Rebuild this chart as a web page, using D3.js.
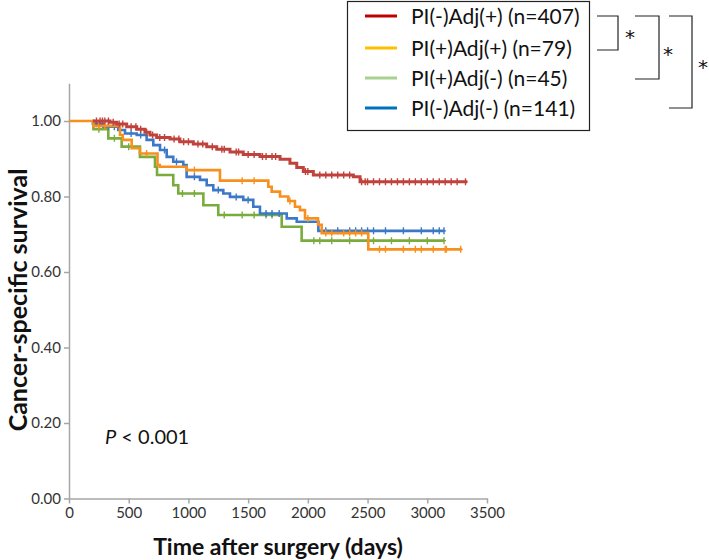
<!DOCTYPE html>
<html>
<head>
<meta charset="utf-8">
<script src="https://cdn.jsdelivr.net/npm/d3@7"></script>
<style>
  body { margin: 0; background: #fff; }
  svg { display: block; font-family: Lato, "Open Sans", sans-serif; }
</style>
</head>
<body>
<svg id="chart" width="709" height="560"></svg>
<script>
// ---------- DATA ----------
const xTicks = [0, 500, 1000, 1500, 2000, 2500, 3000, 3500];
const yTicks = [0, 0.2, 0.4, 0.6, 0.8, 1.0];

const seriesNames = ["PI(-)Adj(+) (n=407)", "PI(+)Adj(+) (n=79)", "PI(+)Adj(-) (n=45)", "PI(-)Adj(-) (n=141)"];

// red: PI(-)Adj(+)
const redTimes = [200, 343, 399, 483, 567, 636, 678, 734, 846, 929, 1041, 1153, 1237, 1348, 1459, 1599, 1767, 1850, 1907, 1962, 2046, 2381, 2437];
const redSurv  = [1.0, 0.997, 0.992, 0.985, 0.978, 0.970, 0.963, 0.956, 0.952, 0.945, 0.939, 0.932, 0.925, 0.918, 0.911, 0.906, 0.899, 0.888, 0.877, 0.866, 0.857, 0.852, 0.839];
const redEnd = 3335;
const redCensor = [230, 260, 280, 300, 330, 370, 420, 450, 520, 560, 600, 650, 700, 760, 800, 880, 920, 960, 1000, 1080, 1120, 1200, 1280, 1300, 1400, 1420, 1500, 1550, 1620, 1650, 1700, 1730, 1980, 2000, 2100, 2150, 2200, 2250, 2300, 2350, 2450, 2480, 2500, 2550, 2600, 2650, 2700, 2750, 2800, 2850, 2900, 2950, 3000, 3050, 3100, 3150, 3200, 3250, 3320];

// orange: PI(+)Adj(+)
const orangeTimes = [0, 204, 427, 450, 525, 594, 741, 760, 985, 1264, 1669, 1697, 1767, 1836, 1892, 1934, 1976, 2085, 2116, 2506];
const orangeSurv  = [1.0, 0.987, 0.963, 0.950, 0.928, 0.914, 0.883, 0.879, 0.870, 0.842, 0.826, 0.813, 0.800, 0.788, 0.773, 0.764, 0.742, 0.725, 0.703, 0.660];
const orangeEnd = 3288;
const orangeCensor = [250, 300, 650, 1050, 1450, 1550, 1850, 2000, 2150, 2200, 2300, 2350, 2400, 2450, 2600, 2650, 2800, 2900, 2950, 3050, 3150, 3160, 3280];

// green: PI(+)Adj(-)
const greenTimes = [200, 205, 329, 441, 594, 720, 737, 873, 915, 1125, 1250, 1781, 1948];
const greenSurv  = [1.0, 0.978, 0.954, 0.932, 0.905, 0.879, 0.857, 0.830, 0.808, 0.777, 0.751, 0.720, 0.683];
const greenEnd = 3142;
const greenCensor = [250, 380, 500, 950, 1050, 1300, 1450, 1550, 1650, 1700, 2050, 2100, 2200, 2350, 2500, 2550, 2700, 2850, 3000, 3140];

// blue: PI(-)Adj(-)
const blueTimes = [195, 200, 287, 413, 469, 567, 650, 706, 762, 818, 873, 957, 985, 1097, 1153, 1208, 1292, 1348, 1459, 1543, 1599, 1823, 1907, 2088];
const blueSurv  = [1.0, 0.993, 0.985, 0.976, 0.967, 0.963, 0.950, 0.936, 0.923, 0.905, 0.892, 0.883, 0.852, 0.844, 0.830, 0.817, 0.808, 0.799, 0.791, 0.773, 0.755, 0.742, 0.733, 0.709];
const blueEnd = 3142;
const blueCensor = [230, 260, 330, 380, 520, 600, 800, 900, 1050, 1250, 1400, 1500, 1650, 1700, 1760, 2150, 2250, 2350, 2400, 2450, 2500, 2550, 2650, 2800, 2950, 3050, 3100, 3140];

const curveColors  = { red: "#c0423c", orange: "#f7901e", green: "#78ad3e", blue: "#3b79c6" };
const legendColors = ["#c00000", "#ffc000", "#a9d18e", "#0070c0"];

// ---------- CHART ----------
const svg = d3.select("#chart");
const x = d3.scaleLinear().domain([0, 3500]).range([69, 487]);
const y = d3.scaleLinear().domain([0, 1.1]).range([498.5, 83.25]);

const axisColor = "#a6a6a6";
const gx = svg.append("g").attr("transform", `translate(0,${y(0)})`)
  .call(d3.axisBottom(x).tickValues(xTicks).tickFormat(d3.format("d")).tickSize(5).tickSizeOuter(0).tickPadding(4));
const gy = svg.append("g").attr("transform", `translate(${x(0)},0)`)
  .call(d3.axisLeft(y).tickValues(yTicks).tickFormat(d3.format(".2f")).tickSize(5).tickSizeOuter(0).tickPadding(3));
[gx, gy].forEach(g => {
  g.select(".domain").attr("stroke", axisColor).attr("stroke-width", 1.5);
  g.selectAll(".tick line").attr("stroke", axisColor).attr("stroke-width", 1.5);
  g.selectAll(".tick text").attr("fill", "#333").style("font-size", "15px").style("font-family", "Lato, sans-serif");
});

function stepPoints(times, surv, end) {
  const pts = [];
  for (let i = 0; i < times.length; i++) {
    if (i > 0) pts.push([times[i], surv[i - 1]]);
    pts.push([times[i], surv[i]]);
  }
  pts.push([end, surv[surv.length - 1]]);
  return pts;
}
function survAt(times, surv, t) {
  let v = surv[0];
  for (let i = 0; i < times.length; i++) { if (times[i] <= t) v = surv[i]; }
  return v;
}
const line = d3.line().x(d => x(d[0])).y(d => y(d[1]));

const series = [
  { key: "green",  t: greenTimes,  s: greenSurv,  e: greenEnd,  c: greenCensor },
  { key: "blue",   t: blueTimes,   s: blueSurv,   e: blueEnd,   c: blueCensor },
  { key: "orange", t: orangeTimes, s: orangeSurv, e: orangeEnd, c: orangeCensor },
  { key: "red",    t: redTimes,    s: redSurv,    e: redEnd,    c: redCensor }
];

series.forEach(sr => {
  const col = curveColors[sr.key];
  const g = svg.append("g");
  g.append("path").datum(stepPoints(sr.t, sr.s, sr.e))
    .attr("d", line).attr("fill", "none").attr("stroke", col).attr("stroke-width", sr.key === "red" ? 3 : 2.6);
  g.selectAll("path.cens").data(sr.c).enter().append("path")
    .attr("class", "cens")
    .attr("d", d => {
      const cx = x(d), cy = y(survAt(sr.t, sr.s, d));
      return `M${cx},${cy - 3.5}V${cy + 3.5}M${cx - 2},${cy}H${cx + 2}`;
    })
    .attr("stroke", col).attr("stroke-width", 1.4);
});

// axis titles
svg.append("text").attr("x", 278).attr("y", 555).attr("text-anchor", "middle")
  .style("font-size", "23px").style("font-weight", "bold").attr("fill", "#111")
  .text("Time after surgery (days)");
svg.append("text").attr("transform", "translate(27,300) rotate(-90)").attr("text-anchor", "middle")
  .style("font-size", "25px").style("font-weight", "bold").attr("fill", "#111")
  .text("Cancer-specific survival");

// P value
const pt = svg.append("text").attr("x", 105).attr("y", 444).style("font-size", "20px").attr("fill", "#111");
pt.append("tspan").style("font-style", "italic").text("P");
pt.append("tspan").text(" < 0.001");

// legend
svg.append("rect").attr("x", 347.5).attr("y", 1.5).attr("width", 242).attr("height", 129)
  .attr("fill", "#fff").attr("stroke", "#222").attr("stroke-width", 1.2);
const legY = [16, 48, 78, 108];
seriesNames.forEach((name, i) => {
  svg.append("line").attr("x1", 365).attr("x2", 397).attr("y1", legY[i]).attr("y2", legY[i])
    .attr("stroke", legendColors[i]).attr("stroke-width", 3);
  svg.append("text").attr("x", 411).attr("y", legY[i] + 7.5).style("font-size", "21px").attr("fill", "#111").text(name);
});

// significance brackets
const brackets = [
  { x1: 597, x2: 618, top: 16, bot: 50, sx: 630, sy: 33 },
  { x1: 635, x2: 659, top: 16, bot: 79, sx: 668, sy: 50 },
  { x1: 669, x2: 692, top: 16, bot: 108, sx: 703, sy: 63 }
];
brackets.forEach(b => {
  svg.append("path").attr("d", `M${b.x1},${b.top}H${b.x2}V${b.bot}H${b.x1}`)
    .attr("fill", "none").attr("stroke", "#222").attr("stroke-width", 1.2);
  svg.append("text").attr("x", b.sx).attr("y", b.sy + 11).attr("text-anchor", "middle")
    .style("font-size", "20px").style("font-family", "'DejaVu Sans', sans-serif").attr("fill", "#111").text("*");
});
</script>
</body>
</html>
